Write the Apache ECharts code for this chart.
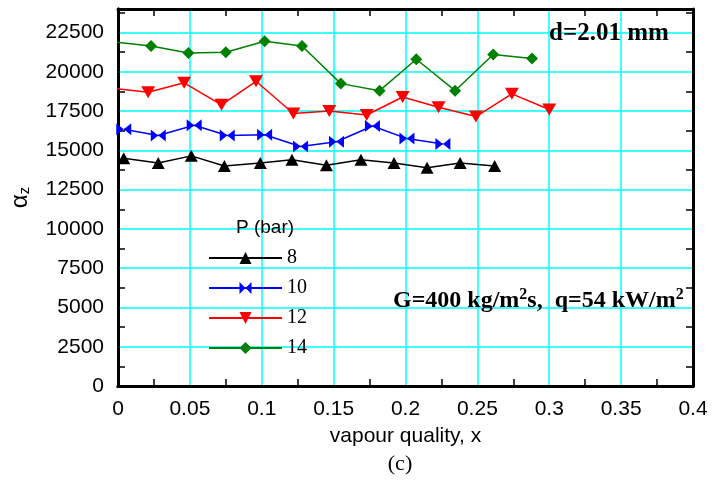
<!DOCTYPE html>
<html>
<head>
<meta charset="utf-8">
<script src="https://cdn.jsdelivr.net/npm/echarts@6/dist/echarts.min.js"></script>
<style>
  html, body { margin: 0; padding: 0; background: #fff; }
  #chart { width: 723px; height: 482px; }
</style>
</head>
<body>
<div id="chart"></div>
<script>
// Heat transfer coefficient along the tube, d = 2.01 mm
const seriesNames = ['8', '10', '12', '14'];

const x8  = [0.004, 0.028, 0.051, 0.074, 0.099, 0.121, 0.145, 0.169, 0.192, 0.215, 0.238, 0.262];
const y8  = [14500, 14200, 14650, 14000, 14200, 14400, 14050, 14400, 14200, 13900, 14200, 14000];

const x10 = [0.004, 0.028, 0.053, 0.076, 0.102, 0.127, 0.152, 0.177, 0.201, 0.226];
const y10 = [16350, 15950, 16600, 15950, 16000, 15250, 15550, 16550, 15750, 15400];

const x12 = [-0.004, 0.021, 0.046, 0.072, 0.096, 0.122, 0.147, 0.173, 0.198, 0.223, 0.249, 0.274, 0.300];
const y12 = [18950, 18700, 19300, 17900, 19400, 17350, 17500, 17250, 18400, 17750, 17150, 18600, 17600];

const x14 = [-0.003, 0.023, 0.049, 0.075, 0.102, 0.128, 0.155, 0.182, 0.2075, 0.2345, 0.261, 0.288];
const y14 = [21900, 21650, 21200, 21250, 21950, 21650, 19250, 18800, 20800, 18800, 21100, 20850];

// small inward ticks sit halfway between the gridded values
const xMinorTicks = [0.025, 0.075, 0.125, 0.175, 0.225, 0.275, 0.325, 0.375];
const yMinorTicks = [1250, 3750, 6250, 8750, 11250, 13750, 16250, 18750, 21250, 23750];

const pair = (xs, ys) => xs.map((x, i) => [x, ys[i]]);

const SANS = 'Liberation Sans';
const SERIF = 'Liberation Serif';
const GRID_CYAN = '#00FFFF';

const chart = echarts.init(document.getElementById('chart'), null, { renderer: 'canvas' });

// frame side carrying only the inward half-step ticks
function tickAxis(dim, position) {
  const isX = dim === 'x';
  return {
    type: 'value',
    position: position,
    min: 0,
    max: isX ? 0.4 : 24000,
    axisLine: { show: true, onZero: false, lineStyle: { color: '#000', width: 3 } },
    axisTick: {
      show: true, inside: true, length: 7,
      customValues: isX ? xMinorTicks : yMinorTicks,
      lineStyle: { color: '#000', width: 1.5 }
    },
    axisLabel: { show: false },
    splitLine: { show: false },
    silent: true
  };
}

const lineBase = {
  type: 'line',
  xAxisIndex: 0,
  yAxisIndex: 0,
  clip: true,
  showAllSymbol: true,
  animation: false,
  z: 5
};

const bowtie = 'path://M0,0 L10,6 L0,12 Z M20,0 L10,6 L20,12 Z';

chart.setOption({
  animation: false,
  backgroundColor: '#fff',
  grid: { left: 116, right: 30, top: 9, bottom: 96 },
  xAxis: [
    {
      type: 'value', position: 'bottom', min: 0, max: 0.4, interval: 0.05,
      axisLine: { show: true, onZero: false, lineStyle: { color: '#000', width: 3 } },
      axisTick: { show: false },
      axisLabel: { color: '#000', fontFamily: SANS, fontSize: 21, margin: 13 },
      splitLine: { show: true, lineStyle: { color: GRID_CYAN, width: 1.5 } },
      name: 'vapour quality, x',
      nameLocation: 'middle',
      nameGap: 40,
      nameTextStyle: { color: '#000', fontFamily: SANS, fontSize: 21 }
    },
    tickAxis('x', 'bottom'),
    tickAxis('x', 'top')
  ],
  yAxis: [
    {
      type: 'value', position: 'left', min: 0, max: 24000, interval: 2500,
      axisLine: { show: true, onZero: false, lineStyle: { color: '#000', width: 3 } },
      axisTick: { show: false },
      axisLabel: {
        color: '#000', fontFamily: SANS, fontSize: 21, margin: 14,
        showMaxLabel: false,
        formatter: v => (v > 22500 ? '' : String(v))
      },
      splitLine: { show: true, lineStyle: { color: GRID_CYAN, width: 1.5 } },
      name: '{a|α}{s|z}',
      nameLocation: 'middle',
      nameRotate: 90,
      nameGap: 86,
      nameTextStyle: {
        color: '#000',
        rich: {
          a: { fontFamily: SANS, fontSize: 24, color: '#000', verticalAlign: 'middle' },
          s: { fontFamily: SANS, fontSize: 15, color: '#000', verticalAlign: 'bottom', padding: [6, 0, 0, 0] }
        }
      }
    },
    tickAxis('y', 'left'),
    tickAxis('y', 'right')
  ],
  legend: {
    orient: 'vertical',
    left: 208,
    top: 248,
    itemWidth: 73,
    itemHeight: 15,
    itemGap: 10,
    padding: 0,
    data: seriesNames,
    textStyle: { color: '#000', fontFamily: SERIF, fontSize: 20, lineHeight: 15 },
    selectedMode: false
  },
  graphic: [
    {
      type: 'text', x: 265, y: 228,
      style: { text: 'P (bar)', font: '19px "Liberation Sans"', fill: '#000', align: 'center', verticalAlign: 'middle' },
      z: 10
    },
    {
      type: 'text', x: 609, y: 34,
      style: { text: 'd=2.01 mm', font: 'bold 25px "Liberation Serif"', fill: '#000', align: 'center', verticalAlign: 'middle' },
      z: 10
    },
    {
      type: 'text', x: 393, y: 300,
      style: {
        text: '{b|G=400 kg/m}{p|2}{b|s,  q=54 kW/m}{p|2}',
        align: 'left', verticalAlign: 'middle', fill: '#000',
        rich: {
          b: { font: 'bold 24px "Liberation Serif"', fill: '#000', lineHeight: 26, verticalAlign: 'bottom' },
          p: { font: 'bold 16px "Liberation Serif"', fill: '#000', lineHeight: 26, verticalAlign: 'top' }
        }
      },
      z: 10
    },
    {
      type: 'text', x: 400, y: 464,
      style: { text: '(c)', font: '22px "Liberation Serif"', fill: '#000', align: 'center', verticalAlign: 'middle' },
      z: 10
    }
  ],
  series: [
    Object.assign({}, lineBase, {
      name: '8', data: pair(x8, y8),
      symbol: 'triangle', symbolSize: [13, 12],
      lineStyle: { color: '#000', width: 1.5 },
      itemStyle: { color: '#000' }
    }),
    Object.assign({}, lineBase, {
      name: '10', data: pair(x10, y10),
      symbol: bowtie, symbolSize: [15, 12],
      lineStyle: { color: '#0000FF', width: 1.5 },
      itemStyle: { color: '#0000FF' }
    }),
    Object.assign({}, lineBase, {
      name: '12', data: pair(x12, y12),
      symbol: 'triangle', symbolRotate: 180, symbolSize: [14, 12],
      lineStyle: { color: '#FF0000', width: 1.5 },
      itemStyle: { color: '#FF0000' }
    }),
    Object.assign({}, lineBase, {
      name: '14', data: pair(x14, y14),
      symbol: 'diamond', symbolSize: [12, 12],
      lineStyle: { color: '#008000', width: 1.5 },
      itemStyle: { color: '#008000' }
    })
  ]
});
</script>
</body>
</html>
